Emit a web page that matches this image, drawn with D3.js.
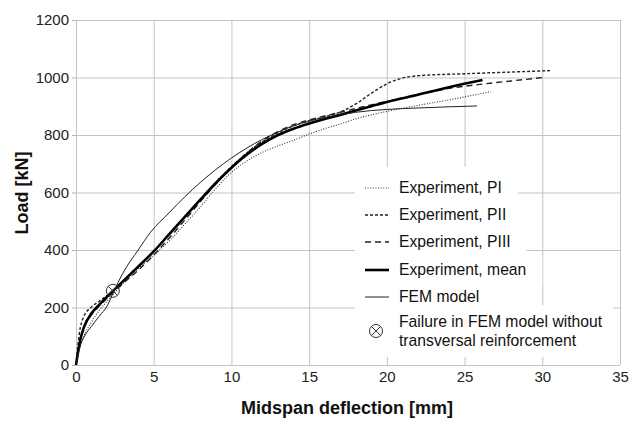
<!DOCTYPE html>
<html>
<head>
<meta charset="utf-8">
<script src="https://cdn.jsdelivr.net/npm/d3@7"></script>
<style>
  body { margin: 0; background: #fff; }
  svg { font-family: "Liberation Sans", Arial, sans-serif; }
  .grid line { stroke: #c4c4c4; stroke-width: 1; }
  .grid path { stroke: none; }
  .axis text { font-family: "Liberation Sans", Arial, sans-serif; font-size: 15px; fill: #222; }
  .axis line, .axis path { stroke: #b0b0b0; }
  .axis-title { font-size: 18px; font-weight: bold; fill: #111; }
  .legend text { font-size: 15.7px; fill: #111; }
</style>
</head>
<body>
<div id="chart"></div>
<script>
// deflection [mm], load [kN]
const xTicks = [0, 5, 10, 15, 20, 25, 30, 35];
const yTicks = [0, 200, 400, 600, 800, 1000, 1200];

const pI = [[0,0],[0.2,55],[0.5,100],[1,150],[1.5,190],[2,222],[2.5,252],[3,282],[4,335],[5,382],[6,432],[7,490],[8,550],[9,614],[10,670],[11,710],[12,740],[13,762],[14,782],[15,803],[16,822],[17,838],[18,856],[19,870],[20,882],[22,903],[24,922],[26.7,951]];
const pII = [[0,0],[0.2,105],[0.5,168],[1,202],[1.5,222],[2,242],[2.5,264],[3,290],[4,342],[5,396],[6,455],[7,515],[8,576],[9,635],[10,690],[11,738],[12,777],[13,808],[14,832],[15,850],[16,863],[17,880],[18,908],[19,945],[20,978],[21,998],[22,1006],[25,1013],[28,1019],[30.5,1024]];
const pIII = [[0,0],[0.3,92],[0.6,140],[1,175],[1.5,205],[2,232],[2.5,258],[3,282],[4,330],[5,382],[6,442],[7,504],[8,568],[9,630],[10,688],[11,738],[12,780],[13,812],[14,836],[15,852],[16,866],[17,879],[18,892],[19,905],[20,917],[22,940],[24,962],[26,976],[28,988],[30.06,1000]];
const pMean = [[0,0],[0.25,82],[0.5,130],[1,180],[1.5,210],[2,238],[2.5,264],[3,290],[4,342],[5,395],[6,455],[7,515],[8,575],[9,633],[10,686],[11,732],[12,770],[13,800],[14,822],[15,840],[16,856],[17,870],[18,885],[19,900],[20,915],[22,940],[24,966],[26.15,991]];
const fem = [[0,0],[0.3,70],[0.6,105],[1,135],[1.5,170],[2,205],[2.4,252],[3,318],[4,400],[4.8,462],[6,530],[7,585],[8,635],[9,680],[10,720],[11,755],[12,785],[13,810],[14,832],[15,848],[16,861],[17,871],[18,879],[19,885],[20,889],[22,894],[24,898],[25.8,901]];
const failurePoint = [2.37, 258];

const series = [
  {name: "Experiment, PI",   data: pI,    width: 1.1, dash: "1,1.6", color: "#333"},
  {name: "Experiment, PII",  data: pII,   width: 1.4, dash: "3,2",   color: "#222"},
  {name: "Experiment, PIII", data: pIII,  width: 1.4, dash: "6,4",   color: "#222"},
  {name: "Experiment, mean", data: pMean, width: 2.6, dash: null,    color: "#000"},
  {name: "FEM model",        data: fem,   width: 1,   dash: null,    color: "#222"}
];

const W = 629, H = 421;
const margin = {top: 20, right: 9, bottom: 56, left: 76};
const width = W - margin.left - margin.right;
const height = H - margin.top - margin.bottom;

const svg = d3.select("#chart").append("svg")
    .attr("width", W)
    .attr("height", H);

const chart = svg.append("g")
    .attr("transform", `translate(${margin.left},${margin.top})`);

const x = d3.scaleLinear().domain([0, 35]).range([0, width]);
const y = d3.scaleLinear().domain([0, 1200]).range([height, 0]);

// grid
chart.append("g").attr("class", "grid")
    .call(d3.axisLeft(y).tickValues(yTicks).tickSize(-width).tickFormat(""));
chart.append("g").attr("class", "grid")
    .attr("transform", `translate(0,${height})`)
    .call(d3.axisBottom(x).tickValues(xTicks).tickSize(-height).tickFormat(""));

// axes with small outward ticks
chart.append("g").attr("class", "axis")
    .call(d3.axisLeft(y).tickValues(yTicks).tickFormat(d3.format("d"))
        .tickSize(4).tickPadding(3).tickSizeOuter(0))
    .call(g => g.select(".domain").remove());
chart.append("g").attr("class", "axis")
    .attr("transform", `translate(0,${height})`)
    .call(d3.axisBottom(x).tickValues(xTicks).tickFormat(d3.format("d"))
        .tickSize(0).tickPadding(6).tickSizeOuter(0))
    .call(g => g.select(".domain").remove());

// curves
const line = d3.line()
    .x(d => x(d[0]))
    .y(d => y(d[1]))
    .curve(d3.curveMonotoneX);

chart.selectAll(".curve")
    .data(series)
  .join("path")
    .attr("class", "curve")
    .attr("fill", "none")
    .attr("stroke", d => d.color)
    .attr("stroke-width", d => d.width)
    .attr("stroke-dasharray", d => d.dash)
    .attr("d", d => line(d.data));

// failure marker (circle with a cross)
function crossCircle(g, cx, cy, r) {
  g.append("circle").attr("cx", cx).attr("cy", cy).attr("r", r)
      .attr("fill", "none").attr("stroke", "#333").attr("stroke-width", 1);
  const k = r * Math.SQRT1_2;
  g.append("path")
      .attr("d", `M${cx - k},${cy - k}L${cx + k},${cy + k}M${cx - k},${cy + k}L${cx + k},${cy - k}`)
      .attr("stroke", "#333").attr("stroke-width", 1);
}
crossCircle(chart, x(failurePoint[0]), y(failurePoint[1]), 6.5);

// axis titles
svg.append("text")
    .attr("class", "axis-title")
    .attr("x", margin.left + width / 2 - 1)
    .attr("y", 414)
    .attr("text-anchor", "middle")
    .text("Midspan deflection [mm]");

svg.append("text")
    .attr("class", "axis-title")
    .attr("transform", "translate(28,193) rotate(-90)")
    .attr("text-anchor", "middle")
    .text("Load [kN]");

// legend, each row has its own white background
const legend = svg.append("g").attr("class", "legend");
const lgX = 355, sampleX0 = 365, sampleX1 = 389, textX = 399;
const rowY = [188, 215, 242, 270, 297];

series.forEach((s, i) => {
  const bg = legend.append("rect").attr("fill", "#fff");
  legend.append("line")
      .attr("x1", sampleX0).attr("x2", sampleX1)
      .attr("y1", rowY[i]).attr("y2", rowY[i])
      .attr("stroke", s.color)
      .attr("stroke-width", s.width)
      .attr("stroke-dasharray", s.dash);
  const t = legend.append("text")
      .attr("x", textX).attr("y", rowY[i]).attr("dy", "0.35em")
      .text(s.name);
  const bb = t.node().getBBox();
  const top = i === 0 ? 167 : (rowY[i - 1] + rowY[i]) / 2;
  const bottom = i === series.length - 1 ? 305 : (rowY[i] + rowY[i + 1]) / 2;
  bg.attr("x", lgX).attr("y", top)
    .attr("width", bb.x + bb.width + 16 - lgX)
    .attr("height", bottom - top);
});

const fBg = legend.append("rect").attr("fill", "#fff");
crossCircle(legend, 376, 331, 6.5);
const fText = legend.append("text").attr("x", textX).attr("y", 322).attr("dy", "0.35em");
fText.append("tspan").attr("x", textX).text("Failure in FEM model without");
fText.append("tspan").attr("x", textX).attr("dy", "1.2em").text("transversal reinforcement");
const fb = fText.node().getBBox();
fBg.attr("x", lgX).attr("y", 305)
   .attr("width", fb.x + fb.width + 10 - lgX)
   .attr("height", 52);
</script>
</body>
</html>
